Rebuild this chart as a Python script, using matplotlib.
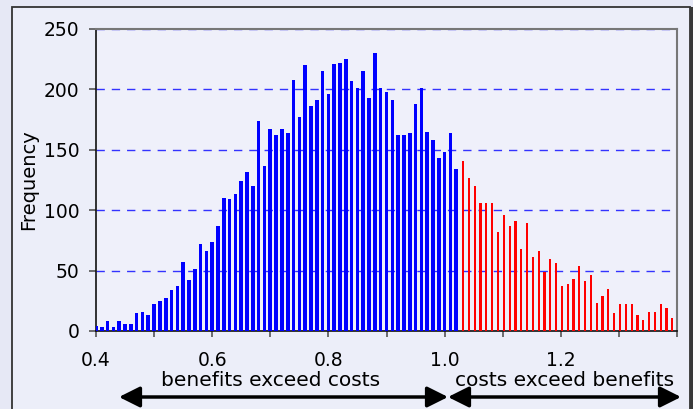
import numpy as np
import matplotlib.pyplot as plt
from matplotlib.patches import Rectangle, FancyArrowPatch
from matplotlib.ticker import MultipleLocator

# bin centres 0.40 .. 1.39 (step 0.01)
bins_benefit = np.round(np.arange(0.40, 1.025, 0.01), 2)
bins_cost = np.round(np.arange(1.03, 1.395, 0.01), 2)

freq_benefit = [4, 3, 8, 3, 8, 6, 6, 15, 16, 13,
                22, 25, 27, 34, 37, 57, 42, 51, 72, 66,
                74, 87, 110, 109, 113, 124, 132, 120, 174, 137,
                167, 162, 167, 164, 208, 177, 220, 186, 191, 215,
                196, 221, 222, 225, 207, 201, 215, 193, 230, 201,
                198, 191, 162, 162, 164, 188, 201, 165, 158, 143,
                148, 164, 134]
freq_cost = [141, 127, 120, 106, 106, 106, 82, 96, 87, 91,
             68, 89, 61, 66, 49, 60, 56, 37, 39, 43,
             54, 41, 46, 23, 29, 35, 15, 22, 22, 22,
             13, 9, 16, 16, 22, 19, 11]

W, H = 693, 409
fig = plt.figure(figsize=(W / 100, H / 100), dpi=100)
fig.patch.set_facecolor('#e6e8f5')

# outer chart frame
fig.patches.append(Rectangle((12 / W, -0.05), (690 - 12) / W, (H - 7) / H + 0.05,
                             transform=fig.transFigure, facecolor='#eceef9',
                             edgecolor='#333333', linewidth=1.3, zorder=-2))
fig.patches.append(Rectangle((690 / W, -0.05), 3 / W, (H - 7) / H + 0.05,
                             transform=fig.transFigure, facecolor='#3a3a3a',
                             edgecolor='none', zorder=-2))

ax = fig.add_axes([96 / W, (H - 331) / H, (677 - 96) / W, (331 - 29) / H])
ax.set_zorder(2)
ax.set_facecolor('#eff0fa')

ax.bar(bins_benefit, freq_benefit, width=0.0062, color='#0000ff', zorder=3)
ax.bar(bins_cost, freq_cost, width=0.0038, align='edge', color='#ff0000', zorder=3)

ax.set_xlim(0.4, 1.4)
ax.set_ylim(0, 250)
ax.yaxis.set_major_locator(MultipleLocator(50))
ax.set_xticks([0.4, 0.5, 0.6, 0.7, 0.8, 0.9, 1.0, 1.1, 1.2, 1.3, 1.4])
ax.set_xticklabels(['0.4', '', '0.6', '', '0.8', '', '1.0', '', '1.2', '', ''])

ax.grid(axis='y', color='#3333ff', linestyle=(0, (6, 5)), linewidth=1.0, zorder=1)
ax.grid(axis='x', visible=False)

for s in ['left', 'bottom']:
    ax.spines[s].set_color('#111111')
    ax.spines[s].set_linewidth(1.2)
for s in ['top', 'right']:
    ax.spines[s].set_color('#777777')
    ax.spines[s].set_linewidth(1.5)

ax.tick_params(axis='y', length=5, width=1.2, color='#555555', pad=7, labelsize=13.5)
ax.tick_params(axis='x', length=4.5, width=1.2, color='#555555', pad=10, labelsize=13.5)

ax.set_ylabel('Frequency', fontsize=14)
ax.yaxis.set_label_coords(-0.1, 0.5)

fig.text(271 / W, 1 - 380 / H, 'benefits exceed costs', fontsize=14.5,
         ha='center', va='center', zorder=3)
fig.text(565 / W, 1 - 380 / H, 'costs exceed benefits', fontsize=14.5,
         ha='center', va='center', zorder=3)

ya = 1 - 397 / H
for x0, x1 in [(119, 448), (448, 681)]:
    fig.patches.append(FancyArrowPatch((x0 / W, ya), (x1 / W, ya),
                                       transform=fig.transFigure,
                                       arrowstyle='<|-|>,head_length=0.9,head_width=0.45',
                                       mutation_scale=14, color='black',
                                       linewidth=2.5, shrinkA=0, shrinkB=0))

fig.savefig('out.png', dpi=100, facecolor=fig.get_facecolor())
